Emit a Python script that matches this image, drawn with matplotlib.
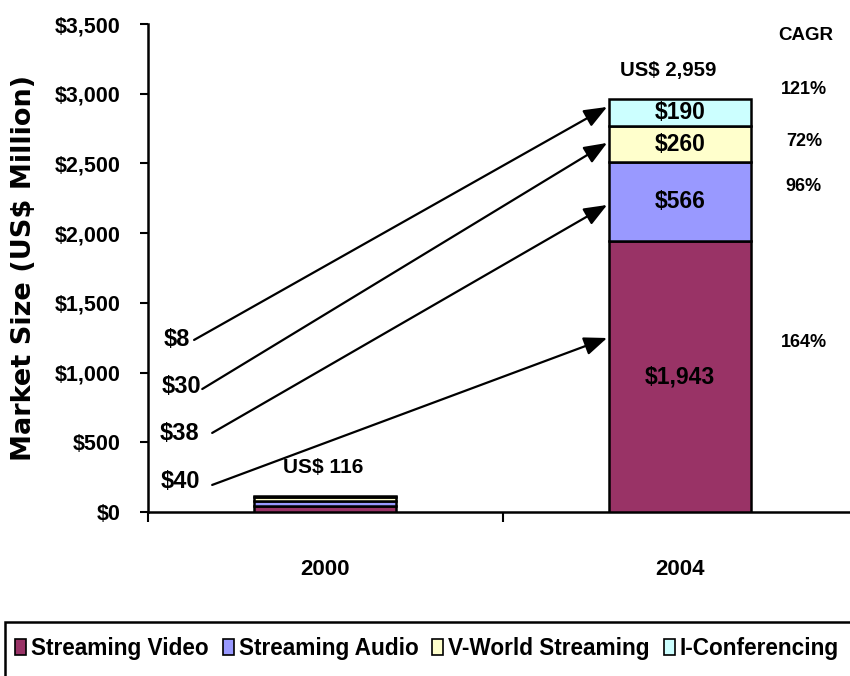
import matplotlib
matplotlib.use("Agg")
import matplotlib.pyplot as plt
from matplotlib.patches import Rectangle

# --- data -------------------------------------------------------------
years = ["2000", "2004"]
segments = ["Streaming Video", "Streaming Audio", "V-World Streaming", "I-Conferencing"]
values_2000 = [40, 38, 30, 8]
values_2004 = [1943, 566, 260, 190]
cagr = ["164%", "96%", "72%", "121%"]
colors = ["#993366", "#9999FF", "#FFFFCC", "#CCFFFF"]
y_ticks = [0, 500, 1000, 1500, 2000, 2500, 3000, 3500]

FONT = "Liberation Sans"
bold = dict(family=FONT, fontweight="bold")

W, H = 850, 676
fig = plt.figure(figsize=(W / 100, H / 100), dpi=100)
ax = fig.add_axes([148 / W, 164 / H, 709 / W, 488 / H])

x = [0, 1]
width = 0.4
series = list(zip(values_2000, values_2004))
bottom = [0, 0]
for vals, col, name in zip(series, colors, segments):
    ax.bar(x, vals, width, bottom=bottom, color=col, edgecolor="black",
           linewidth=1.8, label=name, zorder=3)
    bottom = [b + v for b, v in zip(bottom, vals)]
totals = bottom

ax.set_xlim(-0.5, 1.5)
ax.set_ylim(0, 3500)
ax.set_yticks(y_ticks)
ax.set_yticklabels([f"${v:,}" for v in y_ticks], **bold, fontsize=15.5)
ax.set_xticks([-0.5, 0.5, 1.5])
ax.set_xticklabels([])
ax.set_xticks(x, minor=True)
ax.set_xticklabels(years, minor=True, **bold, fontsize=16)
ax.tick_params(axis="y", direction="out", length=6, width=1.5, pad=14)
ax.tick_params(axis="x", which="major", direction="out", length=7, width=1.5)
ax.tick_params(axis="x", which="minor", length=0, pad=34)
for s in ("top", "right"):
    ax.spines[s].set_visible(False)
for s in ("left", "bottom"):
    ax.spines[s].set_linewidth(1.8)

ax.set_ylabel("Market Size (US$ Million)", fontsize=19.5, fontweight="bold",
              family="DejaVu Sans")
ax.yaxis.set_label_coords(-0.157, 0.5)

# values inside the 2004 stack
b = 0
for v in values_2004:
    ax.text(1, b + v / 2, f"${v:,}", ha="center", va="center", fontsize=16.5, **bold)
    b += v

# totals above the bars
ax.text(-0.005, totals[0] + 200, f"US$ {totals[0]:,}", ha="center", va="center",
        fontsize=15, **bold)
ax.text(0.966, totals[1] + 210, f"US$ {totals[1]:,}", ha="center", va="center",
        fontsize=14.7, **bold)

# CAGR column
cagr_y = [1219, 2331, 2654, 3027]
ax.text(1.356, 3421, "CAGR", ha="center", va="center", fontsize=13.5, **bold)
for cy, c in zip(cagr_y, cagr):
    ax.text(1.35, cy, c, ha="center", va="center", fontsize=13, **bold)

# 2000 values with arrows pointing to the matching 2004 segment
label_xy = [(-0.41, 222), (-0.41, 560), (-0.407, 900), (-0.418, 1234)]
start_xy = [(-0.319, 194), (-0.319, 567), (-0.347, 882), (-0.370, 1234)]
tip_y = [1248, 2202, 2647, 2905]
for v, (lx, ly), (sx, sy), ty in zip(values_2000, label_xy, start_xy, tip_y):
    ax.text(lx, ly, f"${v}", ha="center", va="center", fontsize=17, **bold)
    ax.annotate("", xy=(1 - width / 2 - 0.005, ty), xytext=(sx, sy),
                arrowprops=dict(arrowstyle="-|>,head_length=1.0,head_width=0.4",
                                mutation_scale=14, color="black", lw=1.6,
                                shrinkA=0, shrinkB=0), zorder=4)

# legend along the bottom, inside an open-ended frame
leg = fig.legend(loc="center left", bbox_to_anchor=(15 / W, 1 - 648 / H),
                 ncol=4, prop=dict(family=FONT, weight="bold", size=16.3),
                 frameon=False, handlelength=0.5, handleheight=0.7,
                 handletextpad=0.22, columnspacing=0.6, borderpad=0,
                 borderaxespad=0)
for h in leg.legend_handles:
    h.set_linewidth(1.2)
    h.set_edgecolor("black")
fig.patches.append(Rectangle((5 / W, -0.05), 1.0, (H - 622) / H + 0.05,
                             transform=fig.transFigure, fill=False,
                             edgecolor="black", linewidth=1.8))

fig.savefig("out.png", dpi=100)
